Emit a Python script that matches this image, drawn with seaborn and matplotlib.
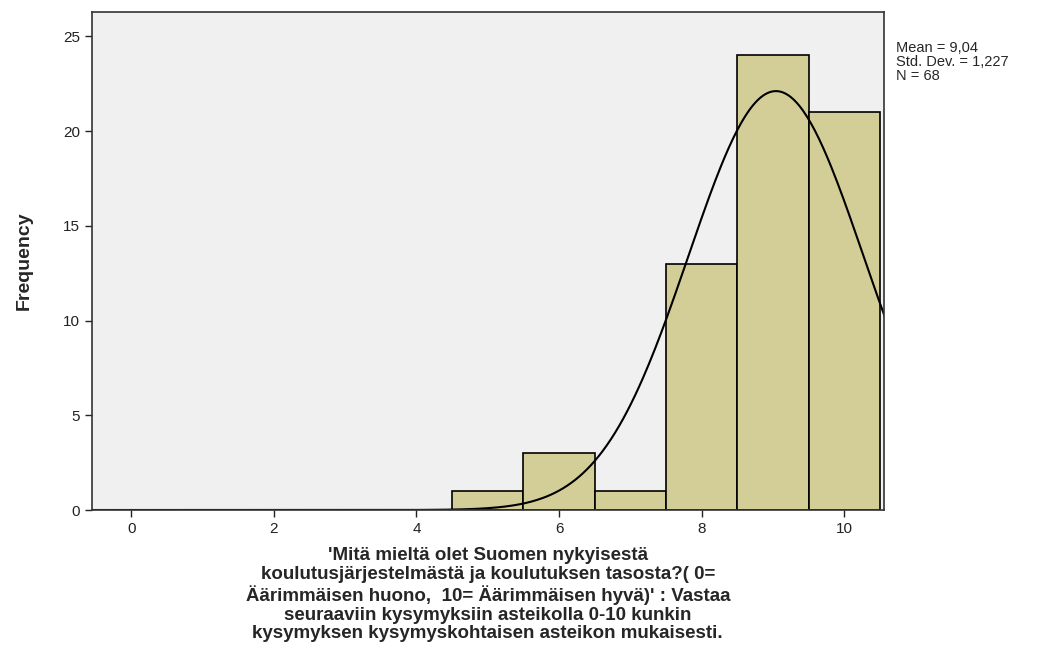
import numpy as np
import pandas as pd
import matplotlib
matplotlib.use("Agg")
import matplotlib.pyplot as plt
import seaborn as sns

scores = [5, 6, 7, 8, 9, 10]
counts = [1, 3, 1, 13, 24, 21]
mean_val = 9.04
sd_val = 1.227
n_val = 68
xticks = [0, 2, 4, 6, 8, 10]
yticks = [0, 5, 10, 15, 20, 25]
xlabel = ("'Mitä mieltä olet Suomen nykyisestä\n"
          "koulutusjärjestelmästä ja koulutuksen tasosta?( 0=\n"
          "Äärimmäisen huono,  10= Äärimmäisen hyvä)' : Vastaa\n"
          "seuraaviin kysymyksiin asteikolla 0-10 kunkin\n"
          "kysymyksen kysymyskohtaisen asteikon mukaisesti.")

sns.set_style("white")
plt.rcParams['font.family'] = ['Liberation Sans', 'DejaVu Sans']

fig = plt.figure(figsize=(10.57, 6.46), dpi=100)
ax = fig.add_axes([0.087, 0.2105, 0.749, 0.7705])
ax.set_facecolor("#f0f0f0")

df = pd.DataFrame({"score": np.repeat(scores, counts).astype(float)})
sns.histplot(data=df, x="score", bins=np.arange(4.5, 11.5, 1),
             color="#d3ce98", edgecolor="black", linewidth=1.2, alpha=1, ax=ax)

xs = np.linspace(-0.6, 10.6, 400)
ys = n_val * 1.0 / (sd_val * np.sqrt(2 * np.pi)) * np.exp(-0.5 * ((xs - mean_val) / sd_val) ** 2)
sns.lineplot(x=xs, y=ys, color="black", linewidth=1.5, ax=ax)

ax.set_xlim(-0.55, 10.55)
ax.set_ylim(0, 26.27)
ax.set_xticks(xticks)
ax.set_yticks(yticks)
ax.tick_params(axis="both", direction="out", length=5, width=1, labelsize=11,
               colors="#222222", bottom=True, left=True)
for s in ax.spines.values():
    s.set_color("#333333")
    s.set_linewidth(1.2)

ax.set_ylabel("Frequency", fontsize=14, fontweight="bold",
              family=['Liberation Sans Narrow', 'Liberation Sans', 'DejaVu Sans'], labelpad=22)
ax.set_xlabel(xlabel, fontsize=13.5, fontweight="bold", linespacing=1.14, labelpad=8)

fig.text(0.848, 0.937, "Mean = " + f"{mean_val:.2f}".replace(".", ","), fontsize=10.5, va="top")
fig.text(0.848, 0.915, "Std. Dev. = " + f"{sd_val:.3f}".replace(".", ","), fontsize=10.5, va="top")
fig.text(0.848, 0.893, f"N = {n_val}", fontsize=10.5, va="top")

fig.savefig("out.png", dpi=100)
